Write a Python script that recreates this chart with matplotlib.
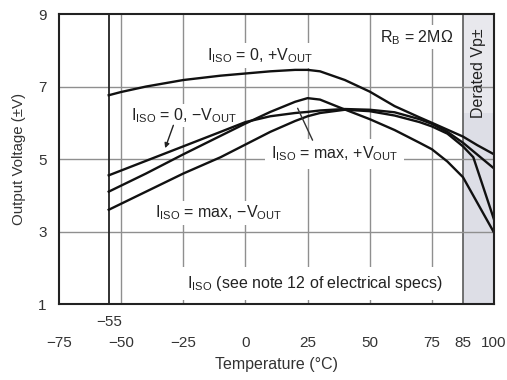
import numpy as np
import matplotlib
matplotlib.use("Agg")
import matplotlib.pyplot as plt

plt.rcParams['font.family'] = ['Liberation Sans', 'DejaVu Sans']
plt.rcParams['mathtext.fontset'] = 'custom'
plt.rcParams['mathtext.rm'] = 'Liberation Sans'
plt.rcParams['mathtext.it'] = 'Liberation Sans'

# ---- data -------------------------------------------------------------
# I_ISO = 0, +V_OUT
t_iso0_pos = [-55, -50, -40, -25, -10, 0, 10, 20, 25, 30, 40, 50, 60, 70, 75, 85, 92, 100]
v_iso0_pos = [6.76, 6.85, 7.0, 7.18, 7.3, 7.36, 7.42, 7.46, 7.46, 7.42, 7.18, 6.86, 6.46, 6.15, 6.0, 5.62, 5.38, 5.13]

# I_ISO = max, +V_OUT
t_isomax_pos = [-55, -40, -25, -10, 0, 10, 20, 25, 30, 38, 50, 60, 70, 75, 80, 85, 100]
v_isomax_pos = [4.1, 4.6, 5.13, 5.64, 5.98, 6.3, 6.58, 6.68, 6.64, 6.42, 6.1, 5.8, 5.45, 5.27, 4.93, 4.5, 2.97]

# I_ISO = 0, -V_OUT
t_iso0_neg = [-55, -40, -25, -10, 0, 10, 20, 25, 30, 40, 50, 60, 70, 75, 80, 85, 100]
v_iso0_neg = [4.55, 4.95, 5.35, 5.75, 6.02, 6.18, 6.27, 6.3, 6.34, 6.38, 6.36, 6.29, 6.1, 5.97, 5.75, 5.45, 4.74]

# I_ISO = max, -V_OUT
t_isomax_neg = [-55, -40, -25, -10, 0, 10, 20, 25, 30, 40, 50, 60, 70, 75, 80, 85, 90, 100]
v_isomax_neg = [3.6, 4.1, 4.6, 5.05, 5.4, 5.75, 6.05, 6.18, 6.27, 6.36, 6.32, 6.2, 6.02, 5.9, 5.7, 5.35, 5.05, 3.33]

x_ticks = [-75, -50, -25, 0, 25, 50, 75, 85, 100]
x_tick_labels = ['\u221275', '\u221250', '\u221225', '0', '25', '50', '75', '85', '100']
y_ticks = [1, 3, 5, 7, 9]
t_min_rated = -55
t_derate = 85

# ---- temperature axis: linear to 75 °C, then stretched 75..85..100 ----
T_KNOTS = [-75, 75, 85, 100]
P_KNOTS = [0.0, 6.0, 6.5, 7.0]


def fwd(t):
    return np.interp(t, T_KNOTS, P_KNOTS)


def inv(p):
    return np.interp(p, P_KNOTS, T_KNOTS)


fig = plt.figure(figsize=(5.07, 3.80), dpi=100)
ax = fig.add_axes([0.1164, 0.2, 0.858, 0.763])
ax.set_xscale('function', functions=(fwd, inv))
ax.set_xlim(-75, 100)
ax.set_ylim(1, 9)

grid_c = '#8f8f8f'
# derated region
ax.axvspan(t_derate, 100, color='#dddee6', zorder=0, lw=0)
ax.axvspan(t_derate, 100, ymin=0.66, ymax=1.0, color='#e8e8ed', zorder=0, lw=0)
ax.axvline(t_derate, color='#5a5a5a', lw=1.2, zorder=1)

for t in [-50, -25, 0, 25, 50, 75]:
    ax.axvline(t, color=grid_c, lw=1.0, zorder=1)
for v in [3, 5, 7]:
    ax.axhline(v, color=grid_c, lw=1.0, zorder=1)
ax.axvline(t_min_rated, color='#222222', lw=1.3, zorder=1)

lw = 1.7
for t, v in [(t_iso0_pos, v_iso0_pos), (t_isomax_pos, v_isomax_pos),
             (t_iso0_neg, v_iso0_neg), (t_isomax_neg, v_isomax_neg)]:
    ax.plot(t, v, color='#111111', lw=lw, zorder=4, solid_joinstyle='round')

for s in ax.spines.values():
    s.set_linewidth(1.5)
    s.set_color('#222222')
    s.set_zorder(6)

fs = 11.5
ax.set_xticks(x_ticks)
ax.set_xticklabels(x_tick_labels)
ax.set_xticks([t_min_rated], minor=True)
ax.set_xticklabels(['\u221255'], minor=True)
ax.tick_params(axis='x', which='major', length=0, pad=23, labelsize=11, colors='#333333')
ax.tick_params(axis='x', which='minor', length=0, pad=8, labelsize=11, colors='#333333')
ax.set_yticks(y_ticks)
ax.set_yticklabels([str(v) for v in y_ticks])
ax.tick_params(axis='y', length=0, pad=9, labelsize=11, colors='#333333')

ax.set_xlabel('Temperature (\u00b0C)', fontsize=11.5, color='#333333', labelpad=5)
ax.set_ylabel('Output Voltage (\u00b1V)', fontsize=10.8, color='#333333', labelpad=9)

txt = dict(fontsize=fs, color='#222222', ha='center', va='baseline', zorder=3)


def box(p):
    return dict(facecolor='white', edgecolor='none', pad=p)


ax.text(6, 7.73, r'I$_\mathregular{ISO}$ = 0, +V$_\mathregular{OUT}$', bbox=box(2), **txt)
ax.text(69, 8.23, 'R$_\\mathregular{B}$ = 2M\u03a9', bbox=box(2), **txt)
ax.text(-24.6, 6.07, 'I$_\\mathregular{ISO}$ = 0, \u2212V$_\\mathregular{OUT}$', bbox=box(1.5), **txt)
ax.text(35.9, 5.02, r'I$_\mathregular{ISO}$ = max, +V$_\mathregular{OUT}$', bbox=box(4), **txt)
ax.text(-10.9, 3.39, 'I$_\\mathregular{ISO}$ = max, \u2212V$_\\mathregular{OUT}$', bbox=box(2), **txt)
ax.text(27.8, 1.45, r'I$_\mathregular{ISO}$ (see note 12 of electrical specs)', bbox=box(5), **txt)
ax.text(92.5, 7.36, 'Derated Vp\u00b1', rotation=90, fontsize=fs, color='#222222',
        ha='center', va='center', zorder=3)

ax.annotate('', xy=(-32.3, 5.3), xytext=(-29.0, 5.93),
            arrowprops=dict(arrowstyle='-|>', color='#222222', lw=1.0,
                            mutation_scale=7, shrinkA=0, shrinkB=0), zorder=5)
ax.annotate('', xy=(21, 6.4), xytext=(27, 5.52),
            arrowprops=dict(arrowstyle='-', color='#333333', lw=1.0,
                            shrinkA=0, shrinkB=0), zorder=5)

fig.savefig('out.png', dpi=100)
